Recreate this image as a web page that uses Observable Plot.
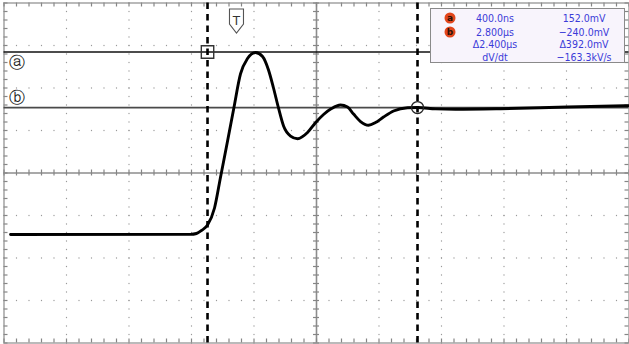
<!DOCTYPE html>
<html>
<head>
<meta charset="utf-8">
<script src="https://cdn.jsdelivr.net/npm/d3@7"></script>
<script src="https://cdn.jsdelivr.net/npm/@observablehq/plot@0.6"></script>
<style>
  html, body { margin: 0; padding: 0; background: #fff; }
  #wrap { position: relative; width: 629px; height: 344px; overflow: hidden; }
  #readout { position: absolute; left: 430px; top: 8px; width: 193px; height: 53px;
    border: 1px solid #8a8a8a; background: #f8f4fc; }
  .ro { position: absolute; transform: translate(-50%, -50%); white-space: nowrap;
    font-family: "Liberation Sans Narrow", "DejaVu Sans Condensed", "DejaVu Sans", sans-serif;
    font-stretch: condensed; font-size: 10.5px; color: #3b3bd8; line-height: 1; }
  .badge { position: absolute; width: 11px; height: 11px; border-radius: 50%;
    background: #e2461c; transform: translate(-50%, -50%); color: #2a1208;
    font-family: "DejaVu Sans", sans-serif; font-size: 9px; font-weight: bold;
    line-height: 11px; text-align: center; }
</style>
</head>
<body>
<div id="wrap"></div>
<script>
// ---- Scope settings (time in µs, voltage in mV) ----
const timeDomain = [-1.926, 5.217];
const voltDomain = [-1902, 498];
const timeDivs = 10;
const voltDivs = 8;
const minorPerDiv = 5;

// ---- Waveform ----
const timeUs = [-1.851, 0.206, 0.274, 0.331, 0.400, 0.480, 0.549, 0.629, 0.701, 0.777,
  0.857, 0.949, 1.029, 1.097, 1.154, 1.211, 1.269, 1.349, 1.429, 1.543,
  1.634, 1.726, 1.817, 1.920, 2.000, 2.069, 2.149, 2.240, 2.320, 2.411,
  2.526, 2.686, 2.800, 3.006, 3.234, 3.749, 4.514, 5.211];
const voltMv = [-1136, -1135, -1129, -1108, -1069, -949, -730, -476, -243, -3,
  106, 149, 120, 25, -102, -243, -370, -441, -460, -416,
  -347, -289, -247, -222, -236, -286, -339, -365, -346, -307,
  -264, -241, -240, -249, -252, -248, -236, -227];

// ---- Cursors ----
const cursorNames = ["ⓐ", "ⓑ"];
const cursorTimeUs = [0.4, 2.8];
const cursorVoltMv = [152.0, -240.0];
const triggerTimeUs = 0.731;
const triggerLabel = "T";

// ---- Readout panel texts ----
const readoutBadges = ["a", "b", "", ""];
const readoutTime = ["400.0ns", "2.800µs", "Δ2.400µs", "dV/dt"];
const readoutVolt = ["152.0mV", "−240.0mV", "Δ392.0mV", "−163.3kV/s"];

// ---- Derived grid positions ----
const tStep = (timeDomain[1] - timeDomain[0]) / timeDivs;
const vStep = (voltDomain[1] - voltDomain[0]) / voltDivs;
const tMid = (timeDomain[0] + timeDomain[1]) / 2;
const vMid = (voltDomain[0] + voltDomain[1]) / 2;
const tMinor = d3.range(timeDivs * minorPerDiv + 1).map(i => timeDomain[0] + i * tStep / minorPerDiv);
const vMinor = d3.range(voltDivs * minorPerDiv + 1).map(i => voltDomain[0] + i * vStep / minorPerDiv);
const tMajor = d3.range(1, timeDivs).filter(i => i !== timeDivs / 2).map(i => timeDomain[0] + i * tStep);
const vMajor = d3.range(1, voltDivs).filter(i => i !== voltDivs / 2).map(i => voltDomain[0] + i * vStep);
const gridDots = [
  ...tMajor.flatMap(t => vMinor.map(v => ({t, v}))),
  ...vMajor.flatMap(v => tMinor.map(t => ({t, v})))
];
const wave = timeUs.map((t, i) => ({t, v: voltMv[i]}));

const trigShape = {draw(c) {
  c.moveTo(-7, -10); c.lineTo(7, -10); c.lineTo(7, 5); c.lineTo(0, 14); c.lineTo(-7, 5); c.closePath();
}};

const tk = {stroke: "#858585", strokeWidth: 1.2};

const chart = Plot.plot({
  width: 629, height: 344,
  marginLeft: 3.5, marginRight: 0.5, marginTop: 2.5, marginBottom: 1.5,
  x: {type: "linear", domain: timeDomain, axis: null},
  y: {type: "linear", domain: voltDomain, axis: null},
  style: {background: "#fff", overflow: "visible"},
  marks: [
    Plot.dot(gridDots, {x: "t", y: "v", r: 0.65, fill: "#9a9a9a", stroke: "none"}),
    Plot.ruleX([tMid], {stroke: "#8c8c8c", strokeWidth: 1.6}),
    Plot.ruleY([vMid], {stroke: "#8c8c8c", strokeWidth: 1.6}),
    // minor ticks on the centre lines
    Plot.ruleX(tMinor, {x: d => d, y1: () => vMid, y2: () => vMid, insetTop: -3, insetBottom: -3, ...tk}),
    Plot.ruleY(vMinor, {y: d => d, x1: () => tMid, x2: () => tMid, insetLeft: -3, insetRight: -3, ...tk}),
    // minor ticks on the border, pointing inward
    Plot.ruleX(tMinor, {x: d => d, y1: () => voltDomain[0], y2: () => voltDomain[0], insetTop: -4, insetBottom: 0, ...tk}),
    Plot.ruleX(tMinor, {x: d => d, y1: () => voltDomain[1], y2: () => voltDomain[1], insetTop: 0, insetBottom: -4, ...tk}),
    Plot.ruleY(vMinor, {y: d => d, x1: () => timeDomain[0], x2: () => timeDomain[0], insetLeft: 0, insetRight: -4, ...tk}),
    Plot.ruleY(vMinor, {y: d => d, x1: () => timeDomain[1], x2: () => timeDomain[1], insetLeft: -4, insetRight: 0, ...tk}),
    Plot.frame({stroke: "#8c8c8c", strokeWidth: 1.2}),
    Plot.ruleY([cursorVoltMv[0]], {stroke: "#111", strokeWidth: 1.3}),
    Plot.ruleY([cursorVoltMv[1]], {stroke: "#4a4a4a", strokeWidth: 1.8}),
    Plot.ruleX(cursorTimeUs, {stroke: "#000", strokeWidth: 2.6, strokeDasharray: "6.5,5"}),
    Plot.line(wave, {x: "t", y: "v", stroke: "#000", strokeWidth: 2.9, curve: "monotone-x",
      strokeLinejoin: "round", strokeLinecap: "round"}),
    Plot.dot([0], {x: () => cursorTimeUs[0], y: () => cursorVoltMv[0], symbol: "square", r: 7,
      fill: "none", stroke: "#333", strokeWidth: 1.4}),
    Plot.dot([0], {x: () => cursorTimeUs[1], y: () => cursorVoltMv[1], r: 6,
      fill: "none", stroke: "#222", strokeWidth: 1.3}),
    Plot.text([0], {frameAnchor: "left", y: () => cursorVoltMv[0], text: () => cursorNames[0],
      textAnchor: "middle", dx: 12.5, dy: 11, fontSize: 16, fill: "#222", fontFamily: "DejaVu Sans"}),
    Plot.text([0], {frameAnchor: "left", y: () => cursorVoltMv[1], text: () => cursorNames[1],
      textAnchor: "middle", dx: 12.5, dy: -10, fontSize: 16, fill: "#222", fontFamily: "DejaVu Sans"}),
    Plot.dot([triggerTimeUs], {x: d => d, frameAnchor: "top", dy: 16, symbol: trigShape,
      fill: "#fff", stroke: "#555", strokeWidth: 1.1}),
    Plot.text([triggerTimeUs], {x: d => d, frameAnchor: "top", dy: 13, text: () => triggerLabel,
      fontSize: 12, fill: "#333", fontFamily: "DejaVu Sans"})
  ]
});

const wrap = document.getElementById("wrap");
wrap.appendChild(chart);

// readout panel overlay
const panel = document.createElement("div");
panel.id = "readout";
wrap.appendChild(panel);
const rowY = [17, 30.5, 43.3, 56];
readoutTime.forEach((txt, i) => {
  if (readoutBadges[i]) {
    const b = document.createElement("div");
    b.className = "badge";
    b.style.left = (449 - 430) + "px";
    b.style.top = (rowY[i] - 8) + "px";
    b.textContent = readoutBadges[i];
    panel.appendChild(b);
  }
  const a = document.createElement("div");
  a.className = "ro";
  a.style.left = (494 - 430) + "px";
  a.style.top = (rowY[i] - 8) + "px";
  a.textContent = txt;
  panel.appendChild(a);
  const v = document.createElement("div");
  v.className = "ro";
  v.style.left = (583 - 430) + "px";
  v.style.top = (rowY[i] - 8) + "px";
  v.textContent = readoutVolt[i];
  panel.appendChild(v);
});
</script>
</body>
</html>
